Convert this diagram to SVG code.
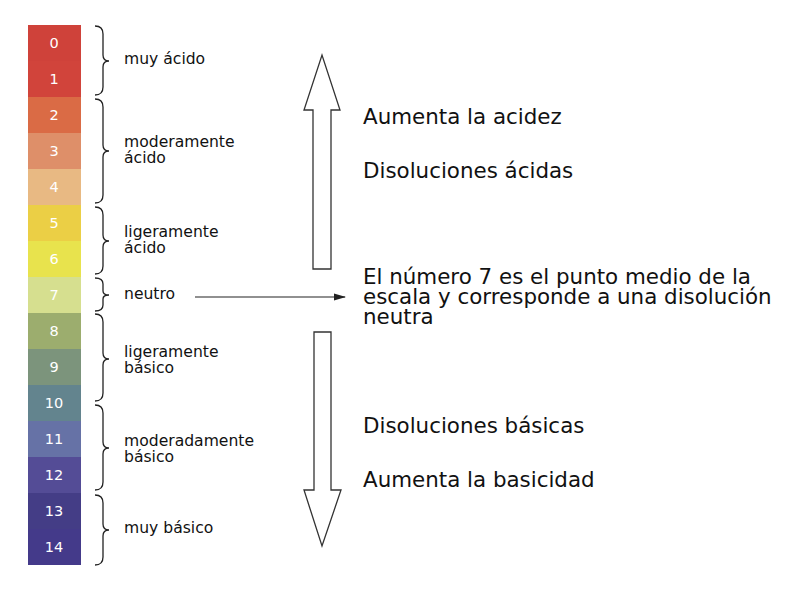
<svg xmlns="http://www.w3.org/2000/svg" width="800" height="589" viewBox="0 0 800 589">
<defs>
<style>
.num{font-family:"DejaVu Sans",Verdana,sans-serif;font-size:14.5px;fill:#ffffff;text-anchor:middle}
.lbl{font-family:"DejaVu Sans",Verdana,sans-serif;font-size:15.6px;fill:#111}
.big{font-family:"DejaVu Sans",Verdana,sans-serif;font-size:21.4px;fill:#111}
.brace{fill:none;stroke:#222;stroke-width:1.3}
.arr{fill:#fff;stroke:#333;stroke-width:1.3}
</style>
<marker id="ah" markerWidth="12" markerHeight="8" refX="11" refY="4" orient="auto" markerUnits="userSpaceOnUse">
<path d="M0,0.5 L12,4 L0,7.5 Z" fill="#222"/>
</marker>
</defs>
<rect width="800" height="589" fill="#fff"/>
<g id="scale">
<rect x="28" y="25" width="53" height="36" fill="#cf423a"/>
<rect x="28" y="61" width="53" height="36" fill="#d1443b"/>
<rect x="28" y="97" width="53" height="36" fill="#da6b45"/>
<rect x="28" y="133" width="53" height="36" fill="#de8f69"/>
<rect x="28" y="169" width="53" height="36" fill="#e8b983"/>
<rect x="28" y="205" width="53" height="36" fill="#ebcf45"/>
<rect x="28" y="241" width="53" height="36" fill="#e8e34d"/>
<rect x="28" y="277" width="53" height="36" fill="#d6df8f"/>
<rect x="28" y="313" width="53" height="36" fill="#9cad6e"/>
<rect x="28" y="349" width="53" height="36" fill="#7c947c"/>
<rect x="28" y="385" width="53" height="36" fill="#63848e"/>
<rect x="28" y="421" width="53" height="36" fill="#6672a6"/>
<rect x="28" y="457" width="53" height="36" fill="#544c96"/>
<rect x="28" y="493" width="53" height="36" fill="#443d86"/>
<rect x="28" y="529" width="53" height="36" fill="#443a8a"/>
<text class="num" x="54" y="48">0</text>
<text class="num" x="54" y="84">1</text>
<text class="num" x="54" y="120">2</text>
<text class="num" x="54" y="156">3</text>
<text class="num" x="54" y="192">4</text>
<text class="num" x="54" y="228">5</text>
<text class="num" x="54" y="264">6</text>
<text class="num" x="54" y="300">7</text>
<text class="num" x="54" y="336">8</text>
<text class="num" x="54" y="372">9</text>
<text class="num" x="54" y="408">10</text>
<text class="num" x="54" y="444">11</text>
<text class="num" x="54" y="480">12</text>
<text class="num" x="54" y="516">13</text>
<text class="num" x="54" y="552">14</text>
</g>
<g id="muy-acido">
<path class="brace" d="M95,26 Q103,26 103,34 L103,55 Q103,61 109,61 Q103,61 103,67 L103,87 Q103,95 95,95"/>
<text class="lbl" x="124" y="64">muy ácido</text>
</g>
<g id="moderamente-acido">
<path class="brace" d="M95,99 Q103,99 103,107 L103,145 Q103,151 109,151 Q103,151 103,157 L103,195 Q103,203 95,203"/>
<text class="lbl" x="124" y="147">moderamente</text>
<text class="lbl" x="124" y="163">ácido</text>
</g>
<g id="ligeramente-acido">
<path class="brace" d="M95,207 Q103,207 103,215 L103,235 Q103,241 109,241 Q103,241 103,247 L103,266 Q103,274 95,274"/>
<text class="lbl" x="124" y="237">ligeramente</text>
<text class="lbl" x="124" y="253">ácido</text>
</g>
<g id="neutro">
<path class="brace" d="M95,278 Q103,278 103,284 L103,291 Q103,295 109,295 Q103,295 103,299 L103,305 Q103,311 95,311"/>
<text class="lbl" x="124" y="299">neutro</text>
</g>
<g id="ligeramente-basico">
<path class="brace" d="M95,314 Q103,314 103,322 L103,353 Q103,359 109,359 Q103,359 103,365 L103,393 Q103,401 95,401"/>
<text class="lbl" x="124" y="357">ligeramente</text>
<text class="lbl" x="124" y="373">básico</text>
</g>
<g id="moderadamente-basico">
<path class="brace" d="M95,405 Q103,405 103,413 L103,442 Q103,448 109,448 Q103,448 103,454 L103,482 Q103,490 95,490"/>
<text class="lbl" x="124" y="446">moderadamente</text>
<text class="lbl" x="124" y="462">básico</text>
</g>
<g id="muy-basico">
<path class="brace" d="M95,495 Q103,495 103,503 L103,524 Q103,530 109,530 Q103,530 103,536 L103,557 Q103,565 95,565"/>
<text class="lbl" x="124" y="533">muy básico</text>
</g>
<g id="acid-arrow">
<path class="arr" d="M313,269 L313,110 L304,110 L322,55 L340,110 L331,110 L331,269 Z"/>
<text class="big" x="363" y="124">Aumenta la acidez</text>
<text class="big" x="363" y="178">Disoluciones ácidas</text>
</g>
<g id="neutral-note">
<text class="big" x="363" y="284">El número 7 es el punto medio de la</text>
<text class="big" x="363" y="304">escala y corresponde a una disolución</text>
<text class="big" x="363" y="324">neutra</text>
</g>
<g id="base-arrow">
<path class="arr" d="M314,332 L331,332 L331,490 L341,490 L322,546 L304,490 L314,490 Z"/>
<text class="big" x="363" y="433">Disoluciones básicas</text>
<text class="big" x="363" y="487">Aumenta la basicidad</text>
</g>
<g id="connectors">
<line x1="195" y1="297" x2="345" y2="297" stroke="#222" stroke-width="1.2" marker-end="url(#ah)"/>
</g>
</svg>
